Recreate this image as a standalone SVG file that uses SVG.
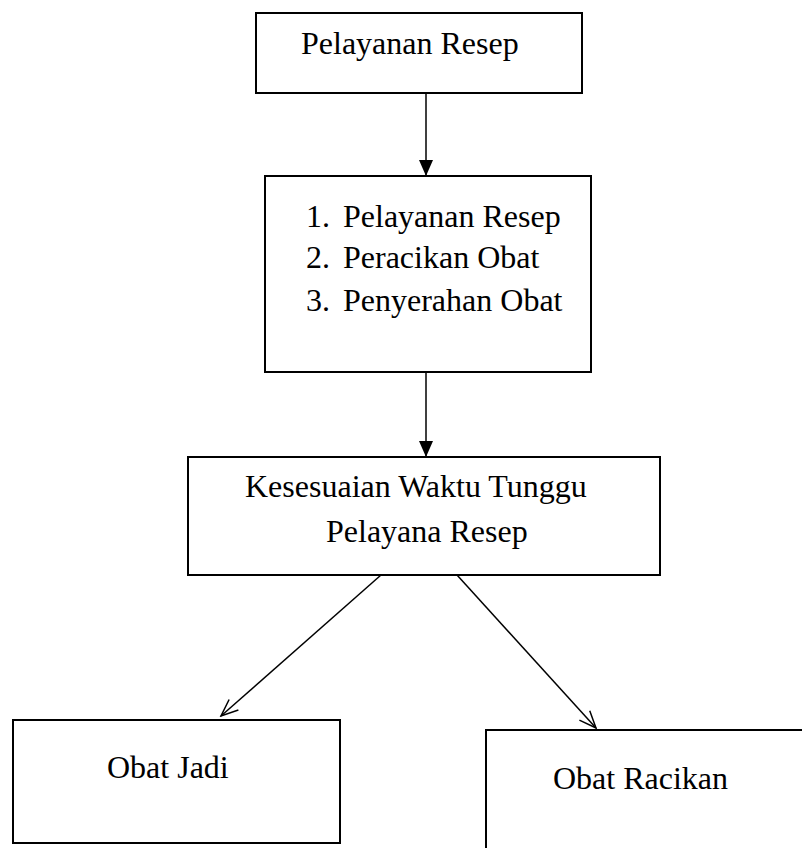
<svg xmlns="http://www.w3.org/2000/svg" width="802" height="848" viewBox="0 0 802 848">
<defs>
<style>
.box{fill:#fff;stroke:#000;stroke-width:2}
.t{font-family:"Liberation Serif","Times New Roman",serif;font-size:32px;fill:#000}
.c{stroke:#000;stroke-width:1.5;fill:none}
</style>
<marker id="fill" markerWidth="16" markerHeight="14" refX="16" refY="7" orient="auto" markerUnits="userSpaceOnUse" viewBox="0 0 16 14">
<path d="M0,0 L16,7 L0,14 Z" fill="#000"/>
</marker>
<marker id="open" markerWidth="20" markerHeight="20" refX="18" refY="10" orient="auto" markerUnits="userSpaceOnUse" viewBox="0 0 20 20">
<path d="M1,3 L18,10 L1,17" fill="none" stroke="#000" stroke-width="1.5"/>
</marker>
</defs>
<rect width="802" height="848" fill="#fff"/>
<g id="connectors">
<line class="c" x1="426" y1="93" x2="426" y2="176" marker-end="url(#fill)"/>
<line class="c" x1="426" y1="372" x2="426" y2="457" marker-end="url(#fill)"/>
<line class="c" x1="381" y1="575" x2="221" y2="716" marker-end="url(#open)"/>
<line class="c" x1="457" y1="575" x2="596" y2="728" marker-end="url(#open)"/>
</g>
<g id="node1">
<rect class="box" x="256" y="13" width="326" height="80"/>
<text class="t" x="301" y="54">Pelayanan Resep</text>
</g>
<g id="node2">
<rect class="box" x="265" y="176" width="326" height="196"/>
<text class="t" x="306" y="227">1.</text>
<text class="t" x="343" y="227">Pelayanan Resep</text>
<text class="t" x="306" y="268">2.</text>
<text class="t" x="343" y="268">Peracikan Obat</text>
<text class="t" x="306" y="311">3.</text>
<text class="t" x="343" y="311">Penyerahan Obat</text>
</g>
<g id="node3">
<rect class="box" x="188" y="457" width="472" height="118"/>
<text class="t" x="245" y="497">Kesesuaian Waktu Tunggu</text>
<text class="t" x="326" y="542">Pelayana Resep</text>
</g>
<g id="node4">
<rect class="box" x="13" y="720" width="327" height="123"/>
<text class="t" x="107" y="778">Obat Jadi</text>
</g>
<g id="node5">
<rect class="box" x="486" y="730" width="330" height="130"/>
<text class="t" x="553" y="789">Obat Racikan</text>
</g>
</svg>
